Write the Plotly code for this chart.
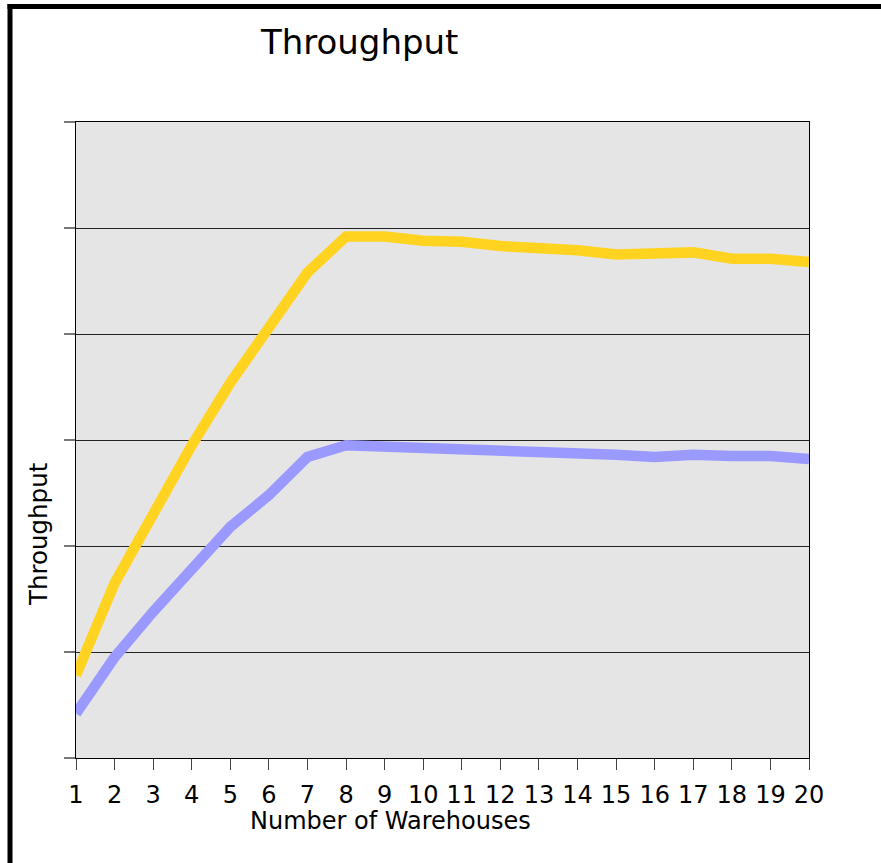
import plotly.graph_objects as go

# Number of warehouses on the x axis
warehouses = list(range(1, 21))

# Throughput of the two configurations
throughput_high = [0.78, 1.65, 2.30, 2.95, 3.54, 4.08, 4.58, 4.92, 4.92, 4.88,
                   4.87, 4.83, 4.82, 4.79, 4.75, 4.75, 4.77, 4.71, 4.71, 4.68]
throughput_low = [0.42, 0.95, 1.38, 1.79, 2.18, 2.48, 2.84, 2.95, 2.94, 2.93,
                  2.915, 2.90, 2.89, 2.88, 2.86, 2.84, 2.86, 2.85, 2.85, 2.82]

FONT = "DejaVu Sans"

fig = go.Figure()
fig.add_trace(go.Scatter(x=warehouses, y=throughput_low, mode="lines",
                         line=dict(color="#9999FF", width=10.5), showlegend=False))
fig.add_trace(go.Scatter(x=warehouses, y=throughput_high, mode="lines",
                         line=dict(color="#FFD320", width=10.5), showlegend=False))

fig.update_layout(
    width=881, height=863,
    margin=dict(l=76, r=72, t=122, b=105),
    paper_bgcolor="white",
    plot_bgcolor="#E5E5E5",
    font=dict(family=FONT, color="black"),
    title=dict(text="Throughput", font=dict(size=34, family=FONT, color="black"),
               x=0.387, xref="paper", xanchor="center",
               y=1 - 42 / 863, yref="container", yanchor="middle"),
    xaxis=dict(range=[1, 20], tickmode="array", tickvals=warehouses,
               ticktext=[str(w) for w in warehouses],
               showgrid=False, zeroline=False,
               showline=True, linecolor="black", linewidth=1, mirror=True,
               ticks="outside", ticklen=11, tickcolor="#444", tickwidth=1,
               ticklabelstandoff=4,
               tickfont=dict(size=24, family=FONT, color="black")),
    yaxis=dict(range=[0, 6], dtick=1, showticklabels=False,
               showgrid=True, gridcolor="#222", gridwidth=1, zeroline=False,
               showline=True, linecolor="black", linewidth=1, mirror=True,
               ticks="outside", ticklen=11, tickcolor="#777", tickwidth=2),
    annotations=[
        dict(text="Throughput", textangle=-90, xref="paper", yref="paper",
             x=(38 - 76) / 733, y=(758 - 534) / 636, xanchor="center", yanchor="middle",
             showarrow=False, font=dict(size=24.5, family=FONT, color="black")),
        dict(text="Number of Warehouses", xref="paper", yref="paper",
             x=(390 - 76) / 733, y=(758 - 821) / 636, xanchor="center", yanchor="middle",
             showarrow=False, font=dict(size=24, family=FONT, color="black")),
    ],
    shapes=[
        # heavy frame along the top and left edges of the page
        dict(type="line", xref="paper", yref="paper",
             x0=(7.5 - 76) / 733, x1=1.3, y0=(758 - 6.5) / 636, y1=(758 - 6.5) / 636,
             line=dict(color="black", width=5)),
        dict(type="line", xref="paper", yref="paper",
             x0=(10 - 76) / 733, x1=(10 - 76) / 733, y0=(758 - 4) / 636, y1=-0.3,
             line=dict(color="black", width=5)),
    ],
)

fig.write_html("out.html")
